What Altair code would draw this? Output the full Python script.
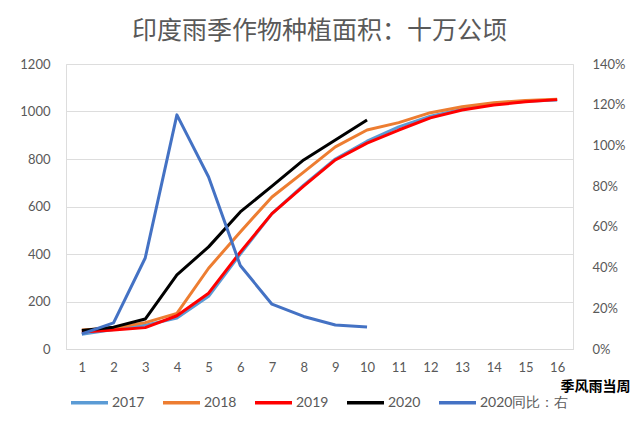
import altair as alt
import pandas as pd

weeks = list(range(1, 17))
v2017 = [62, 82, 100, 130, 222, 400, 570, 690, 800, 875, 935, 980, 1010, 1030, 1043, 1048]
v2018 = [80, 88, 111, 150, 340, 493, 640, 745, 851, 922, 953, 995, 1020, 1037, 1046, 1052]
v2019 = [72, 80, 90, 140, 235, 408, 570, 686, 796, 867, 922, 973, 1006, 1027, 1041, 1050]
v2020 = [78, 92, 126, 312, 430, 577, 686, 796, 880, 964]
ratio2020 = [0.074, 0.128, 0.447, 1.15, 0.845, 0.41, 0.22, 0.16, 0.118, 0.108]

series_names = ["2017", "2018", "2019", "2020", "2020同比：右"]
series_colors = ["#5B9BD5", "#ED7D31", "#FF0000", "#000000", "#4472C4"]

rows = []
for name, vals in zip(series_names[:4], [v2017, v2018, v2019, v2020]):
    for w, v in zip(weeks, vals):
        rows.append({"week": str(w), "series": name, "value": v})
left_df = pd.DataFrame(rows)
right_df = pd.DataFrame({"week": [str(w) for w in weeks[:len(ratio2020)]],
                         "series": series_names[4], "ratio": ratio2020})

FONT = "Lato"
GRAY = "#595959"

x_enc = alt.X("week:O", sort=[str(w) for w in weeks],
              scale=alt.Scale(domain=[str(w) for w in weeks], padding=0.5),
              axis=alt.Axis(title="季风雨当周", labelAngle=0, ticks=False, domain=True,
                            domainColor="#D9D9D9", labelPadding=12, labelFontSize=13,
                            labelColor=GRAY, labelFont=FONT, grid=False,
                            titleFont="Noto Sans CJK SC", titleFontSize=14, titleFontWeight="bold",
                            titleColor="#000000", titleAlign="right", titleBaseline="middle",
                            titleX=564, titleY=37))

color_enc = alt.Color("series:N",
                      scale=alt.Scale(domain=series_names, range=series_colors),
                      legend=alt.Legend(title=None, orient="none", legendX=3, legendY=318,
                                        direction="horizontal", symbolType="stroke",
                                        symbolSize=1369, symbolStrokeWidth=3.5,
                                        labelFontSize=14, labelColor=GRAY, labelFont=FONT,
                                        labelOffset=2, columnPadding=11))

left = alt.Chart(left_df).mark_line(strokeWidth=3, strokeJoin="round").encode(
    x=x_enc,
    y=alt.Y("value:Q", scale=alt.Scale(domain=[0, 1200]),
            axis=alt.Axis(title=None, values=list(range(0, 1201, 200)), format="d", ticks=False,
                          domain=False, gridColor="#DDDDDD", labelPadding=16,
                          labelFontSize=13, labelColor=GRAY, labelFont=FONT)),
    color=color_enc,
)

right = alt.Chart(right_df).mark_line(strokeWidth=3, strokeJoin="round").encode(
    x=x_enc,
    y=alt.Y("ratio:Q", scale=alt.Scale(domain=[0, 1.4]),
            axis=alt.Axis(title=None, orient="right", format=".0%",
                          values=[0, 0.2, 0.4, 0.6, 0.8, 1.0, 1.2, 1.4], ticks=False,
                          domain=False, grid=False, labelPadding=19,
                          labelFontSize=13, labelColor=GRAY, labelFont=FONT)),
    color=color_enc,
)

chart = alt.layer(left, right).resolve_scale(y="independent").properties(
    width=507, height=285,
    padding={"left": 58, "top": 56, "right": 57, "bottom": 70},
    autosize=alt.AutoSizeParams(type="none"),
    title=alt.TitleParams("印度雨季作物种植面积：十万公顷", font="Noto Sans CJK SC",
                          fontSize=25, fontWeight="normal", color=GRAY,
                          anchor="middle", offset=14),
).configure_view(strokeWidth=0).configure(background="white")

chart.save("out.html", embed_options={"renderer": "svg", "actions": False})
